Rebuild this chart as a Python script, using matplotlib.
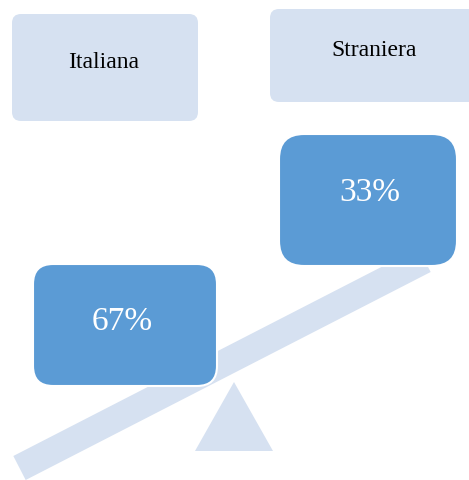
import numpy as np
import matplotlib.pyplot as plt
from matplotlib.patches import FancyBboxPatch, Polygon

# data
categories = ["Italiana", "Straniera"]
shares = [67, 33]

light = "#D6E1F1"
dark = "#5B9BD5"

fig = plt.figure(figsize=(4.69, 4.81), dpi=100)
ax = fig.add_axes([0, 0, 1, 1])
ax.set_xlim(0, 469)
ax.set_ylim(481, 0)
ax.axis("off")

# beam of the seesaw
p0 = np.array([19.5, 469])
p1 = np.array([424.5, 261])
d = (p1 - p0) / np.linalg.norm(p1 - p0)
n = np.array([-d[1], d[0]]) * 13.5
beam = Polygon([p0 + n, p1 + n, p1 - n, p0 - n], closed=True,
               facecolor=light, edgecolor="none", zorder=1)
ax.add_patch(beam)

# fulcrum
ax.add_patch(Polygon([[234, 383], [195, 452], [273, 452]], closed=True,
                     facecolor=light, edgecolor="none", zorder=1))

# label boxes (x, y, w, h, radius)
label_boxes = [(12, 15, 186, 107, 9), (270, 10, 215, 93, 9)]
label_pos = [(104, 62), (374, 50)]
for (x, y, w, h, r), (tx, ty), name in zip(label_boxes, label_pos, categories):
    ax.add_patch(FancyBboxPatch((x, y), w, h,
                                boxstyle=f"round,pad=0,rounding_size={r}",
                                facecolor=light, edgecolor="none", zorder=2))
    ax.text(tx, ty, name, ha="center", va="center", fontsize=17,
            family="Liberation Serif", color="black", zorder=3)

# percentage boxes
pct_boxes = [(33, 265, 184, 122, 20), (279, 135, 178, 132, 25)]
pct_pos = [(122, 322), (370, 193)]
for (x, y, w, h, r), (tx, ty), v in zip(pct_boxes, pct_pos, shares):
    ax.add_patch(FancyBboxPatch((x, y), w, h,
                                boxstyle=f"round,pad=0,rounding_size={r}",
                                facecolor=dark, edgecolor="white",
                                linewidth=1.5, zorder=4))
    ax.text(tx, ty, f"{v}%", ha="center", va="center", fontsize=24,
            family="Liberation Serif", color="white", zorder=5)

fig.savefig("out.png", dpi=100)
